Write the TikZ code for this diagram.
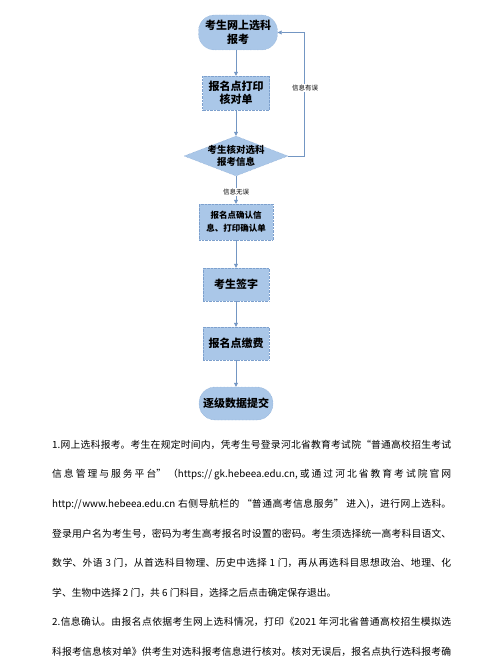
\documentclass[tikz,border=0pt]{standalone}
\usepackage{fontspec}
\setmainfont{Noto Sans CJK SC}
\usetikzlibrary{shapes.geometric,arrows.meta}
\XeTeXlinebreaklocale "zh"
\XeTeXlinebreakskip=0pt plus 1pt
\definecolor{boxfill}{RGB}{170,199,232}
\definecolor{boxline}{RGB}{125,160,205}
\definecolor{arrowc}{RGB}{115,150,195}
\tikzset{
  flow/.style={draw=boxline, densely dotted, fill=boxfill, align=center, inner sep=0pt,
    font=\fontsize{11}{13.5}\selectfont\bfseries},
  rectbox/.style={flow, rectangle},
  stadium/.style={flow, rectangle, rounded corners=16pt},
  conn/.style={draw=arrowc, line width=0.7pt, -{Triangle[length=4pt,width=4pt]}},
  tag/.style={fill=white, inner sep=1pt, font=\fontsize{6.5}{8}\selectfont},
  txt/.style={anchor=west, inner sep=0pt, text width=399pt, align=justify,
    font=\fontsize{9.8}{12}\selectfont},
}
\begin{document}
\begin{tikzpicture}[x=1pt,y=-1pt]
\useasboundingbox (0,0) rectangle (500,660);
\node[stadium, minimum width=79pt, minimum height=35pt] (n1) at (238,32.5) {考生网上选科\\报考};
\node[rectbox, minimum width=67pt, minimum height=34pt] (n2) at (236,93) {报名点打印\\核对单};
\node[flow, shape=diamond, minimum width=104pt, minimum height=40pt] (n3) at (236,156) {};
\node[font=\fontsize{9.5}{12.5}\selectfont\bfseries, align=center, inner sep=0pt] (n3t) at (n3) {考生核对选科\\报考信息};
\node[rectbox, minimum width=74pt, minimum height=36pt, font=\fontsize{8.5}{13}\selectfont\bfseries] (n4) at (236,222) {报名点确认信\\息、打印确认单};
\node[rectbox, minimum width=66pt, minimum height=33pt] (n5) at (236,284.5) {考生签字};
\node[rectbox, minimum width=66pt, minimum height=33pt] (n6) at (236,343.5) {报名点缴费};
\node[stadium, minimum width=74pt, minimum height=33pt] (n7) at (236,403.5) {逐级数据提交};

\coordinate (fbR) at (304,156);
\coordinate (fbT) at (304,32.5);
\draw[conn] (n1.south -| n2.north) -- (n2.north);
\draw[conn] (n2) -- (n3);
\draw[conn] (n3.east) -- (fbR) -- (fbT) -- (n1.east);
\node[tag] (lab1) at (305,88) {信息有误};
\draw[conn] (n3) -- (n4);
\node[tag] (lab2) at (236,192) {信息无误};
\draw[conn] (n4) -- (n5);
\draw[conn] (n5) -- (n6);
\draw[conn] (n6) -- (n7);

\node[txt] (t1) at (52,445) {\noindent\parfillskip=0pt 1.网上选科报考。考生在规定时间内，凭考生号登录河北省教育考试院“普通高校招生考试\par};
\node[txt] (t2) at (52,474.5) {\noindent\parfillskip=0pt 信息管理与服务平台”（https://gk.hebeea.edu.cn,或通过河北省教育考试院官网\par};
\node[txt] (t3) at (52,504) {\noindent\parfillskip=0pt http://www.hebeea.edu.cn 右侧导航栏的 “普通高考信息服务” 进入)，进行网上选科。\par};
\node[txt] (t4) at (52,533.5) {\noindent\parfillskip=0pt 登录用户名为考生号，密码为考生高考报名时设置的密码。考生须选择统一高考科目语文、\par};
\node[txt] (t5) at (52,563) {\noindent\parfillskip=0pt 数学、外语 3 门，从首选科目物理、历史中选择 1 门，再从再选科目思想政治、地理、化\par};
\node[txt] (t6) at (52,592.5) {\noindent 学、生物中选择 2 门，共 6 门科目，选择之后点击确定保存退出。\par};
\node[txt] (t7) at (52,622) {\noindent\parfillskip=0pt 2.信息确认。由报名点依据考生网上选科情况，打印《2021 年河北省普通高校招生模拟选\par};
\node[txt] (t8) at (52,651.5) {\noindent\parfillskip=0pt 科报考信息核对单》供考生对选科报考信息进行核对。核对无误后，报名点执行选科报考确\par};
\end{tikzpicture}
\end{document}
